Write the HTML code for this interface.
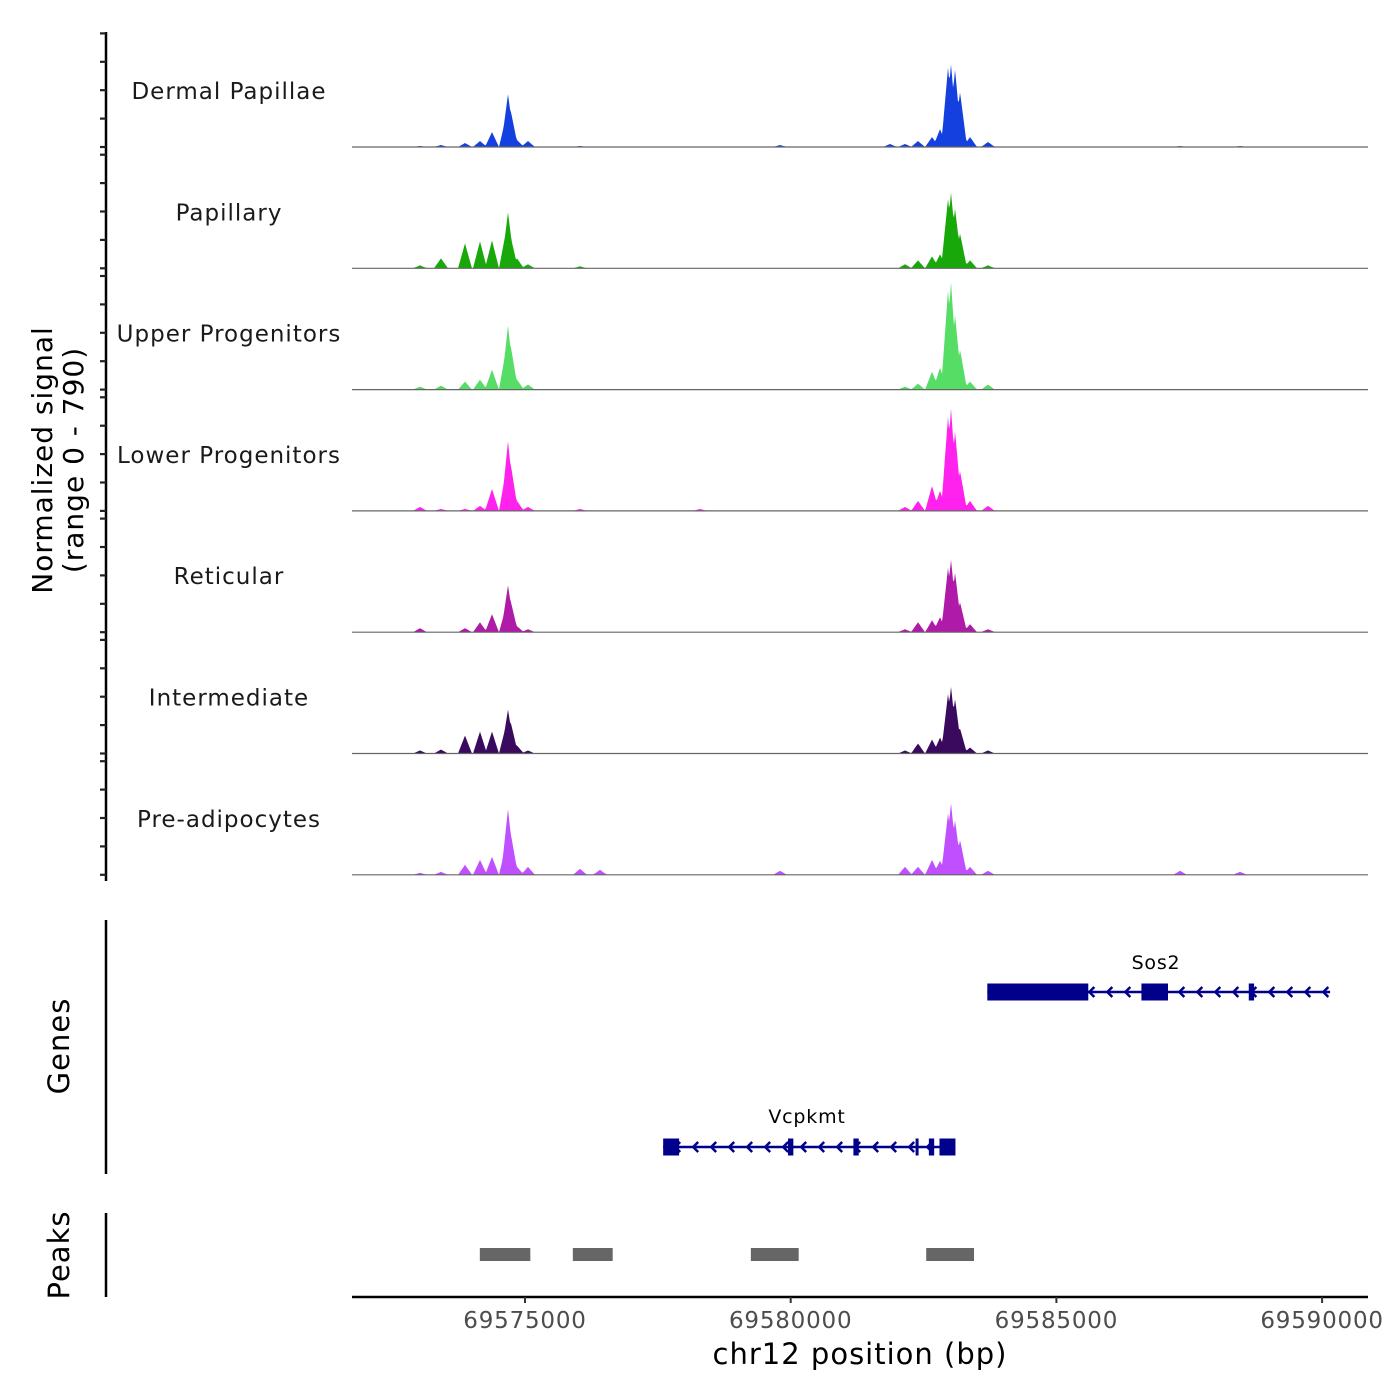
<!DOCTYPE html>
<html><head><meta charset="utf-8"><style>
body{margin:0;background:#fff}
svg{display:block;font-family:"DejaVu Sans","Liberation Sans",sans-serif}
</style></head><body>
<svg id="chart" width="1400" height="1400" viewBox="0 0 1400 1400"></svg>
<script>
const trackNames=["Dermal Papillae","Papillary","Upper Progenitors","Lower Progenitors","Reticular","Intermediate","Pre-adipocytes"];
const trackColors=["#1440e0","#18a80a","#55dd66","#ff22ee","#b01aa8","#3a0a5e","#c050ff"];
const positions=[69573024,69573419,69573871,69574153,69574379,69574642,69574680,69574737,69574849,69575056,69576035,69576411,69578293,69579799,69581869,69582151,69582396,69582660,69582810,69582961,69583017,69583093,69583187,69583375,69583713,69587327,69588456];
const sigDermal=[7,14,28,42,105,210,371,245,49,42,7,0,0,14,21,21,42,70,126,560,581,546,385,70,35,7,7];
const sigPapillary=[21,70,175,189,196,259,392,210,70,28,14,0,0,0,0,28,56,84,98,490,532,420,245,56,21,0,0];
const sigUpper=[21,28,56,70,140,280,448,294,70,35,0,0,0,0,0,21,42,126,154,700,756,525,280,56,35,0,0];
const sigLower=[28,14,14,35,154,280,490,315,70,28,14,0,14,0,0,28,70,175,140,665,721,560,280,70,35,0,0];
const sigReticular=[28,0,28,70,126,175,329,210,42,21,0,0,0,0,0,21,70,84,105,455,511,420,210,56,21,0,0];
const sigIntermediate=[21,28,126,154,154,196,308,210,56,21,0,0,0,0,0,21,70,98,112,420,469,385,175,42,21,0,0];
const sigPreadip=[14,21,70,105,126,210,462,280,56,56,42,35,0,28,0,56,56,105,98,434,504,385,245,56,28,28,21];
const signals=[sigDermal,sigPapillary,sigUpper,sigLower,sigReticular,sigIntermediate,sigPreadip];
const xTicks=[69575000,69580000,69585000,69590000];
const peakStarts=[69574150,69575900,69579250,69582550];
const peakEnds=[69575100,69576650,69580150,69583450];
const sos2Exons=[[69583700,69585600],[69586600,69587100],[69588620,69588720]];
const sos2Range=[69583700,69590150];
const vcpExons=[[69577600,69577900],[69579950,69580050],[69581180,69581280],[69582350,69582400],[69582600,69582700],[69582800,69583100]];
const vcpRange=[69577600,69583100];

const NS="http://www.w3.org/2000/svg";
const svg=document.getElementById('chart');
function el(tag,attrs,parent){const e=document.createElementNS(NS,tag);for(const k in attrs)e.setAttribute(k,attrs[k]);(parent||svg).appendChild(e);return e;}
const x=bp=>525+(bp-69575000)/5000*265.7;
const X0=352,X1=1368;
const baselines=[147,268.3,389.6,510.9,632.2,753.5,874.8];
const ys=v=>v/790*112.5;

const ax=el('line',{x1:106,y1:32,x2:106,y2:881,stroke:'#000','stroke-width':2.5});

baselines.forEach(b=>{for(let k=0;k<5;k++){const t=el('line',{x1:100,x2:106,y1:b-k*28.4,y2:b-k*28.4,stroke:'#222','stroke-width':2.2});
}});

trackNames.forEach((n,i)=>{
  const b=baselines[i];
  const g=el('g',{});
  
  
  const lab=el('text',{x:229,y:b-48,'text-anchor':'middle','font-size':23,'letter-spacing':1,fill:'#1a1a1a'},g);lab.textContent=n;
  
  const hw=7;let pts=[];
  for(let px=X0;px<=X1;px+=1){let h=0;
    positions.forEach((p,j)=>{const d=Math.abs(px-x(p));if(d<hw){h=Math.max(h,ys(signals[i][j])*(1-d/hw));}});
    pts.push([px,b-h]);}
  let d='M'+X0+','+b+' '+pts.map(p=>'L'+p[0]+','+p[1].toFixed(1)).join(' ')+' L'+X1+','+b+'Z';
  const area=el('path',{d:d,fill:trackColors[i]},g);
  
  const bl=el('line',{x1:X0,x2:X1,y1:b,y2:b,stroke:'#666','stroke-width':1.2},g);
  
});

const yt=el('text',{transform:'translate(52,460) rotate(-90)','text-anchor':'middle','font-size':28,'letter-spacing':1,fill:'#000'});

const t1=el('tspan',{x:0,dy:0},yt);t1.textContent='Normalized signal';
const t2=el('tspan',{x:0,dy:31},yt);t2.textContent='(range 0 - 790)';

const ga=el('line',{x1:106,y1:920,x2:106,y2:1174,stroke:'#000','stroke-width':2.5});

const gt=el('text',{transform:'translate(69,1046) rotate(-90)','text-anchor':'middle','font-size':29,'letter-spacing':1});gt.textContent='Genes';

function gene(name,range,exons,y,ly,lx){
  const g=el('g',{});
  el('line',{x1:x(range[0]),x2:x(range[1]),y1:y,y2:y,stroke:'#00008b','stroke-width':2.5},g);
  for(let px=x(range[0])+12;px<x(range[1]);px+=18){
    el('polyline',{points:`${px+5},${y-5} ${px},${y} ${px+5},${y+5}`,fill:'none',stroke:'#00008b','stroke-width':2.5},g);}
  exons.forEach(e=>el('rect',{x:x(e[0]),y:y-8.5,width:Math.max(3,x(e[1])-x(e[0])),height:17,fill:'#00008b'},g));
  const t=el('text',{x:lx,y:ly,'text-anchor':'middle','font-size':19,'letter-spacing':0.8,fill:'#000'},g);t.textContent=name;
}
gene('Sos2',sos2Range,sos2Exons,992,969,1156);
gene('Vcpkmt',vcpRange,vcpExons,1147,1123,807);

const pa=el('line',{x1:106,y1:1213,x2:106,y2:1297,stroke:'#000','stroke-width':2.5});

const pt=el('text',{transform:'translate(69,1255) rotate(-90)','text-anchor':'middle','font-size':29,'letter-spacing':1});pt.textContent='Peaks';

peakStarts.forEach((s,i)=>{const r=el('rect',{x:x(s),y:1248,width:x(peakEnds[i])-x(s),height:13,fill:'#666'});
});

const xa=el('line',{x1:X0,x2:X1,y1:1297,y2:1297,stroke:'#000','stroke-width':2.5});

xTicks.forEach(v=>{const t=el('line',{x1:x(v),x2:x(v),y1:1297,y2:1303,stroke:'#333','stroke-width':2});

const l=el('text',{x:x(v),y:1328,'text-anchor':'middle','font-size':23,'letter-spacing':0.8,fill:'#4d4d4d'});l.textContent=v;
});
const xt=el('text',{x:860,y:1364,'text-anchor':'middle','font-size':29,'letter-spacing':1});xt.textContent='chr12 position (bp)';

</script>
</body></html>
